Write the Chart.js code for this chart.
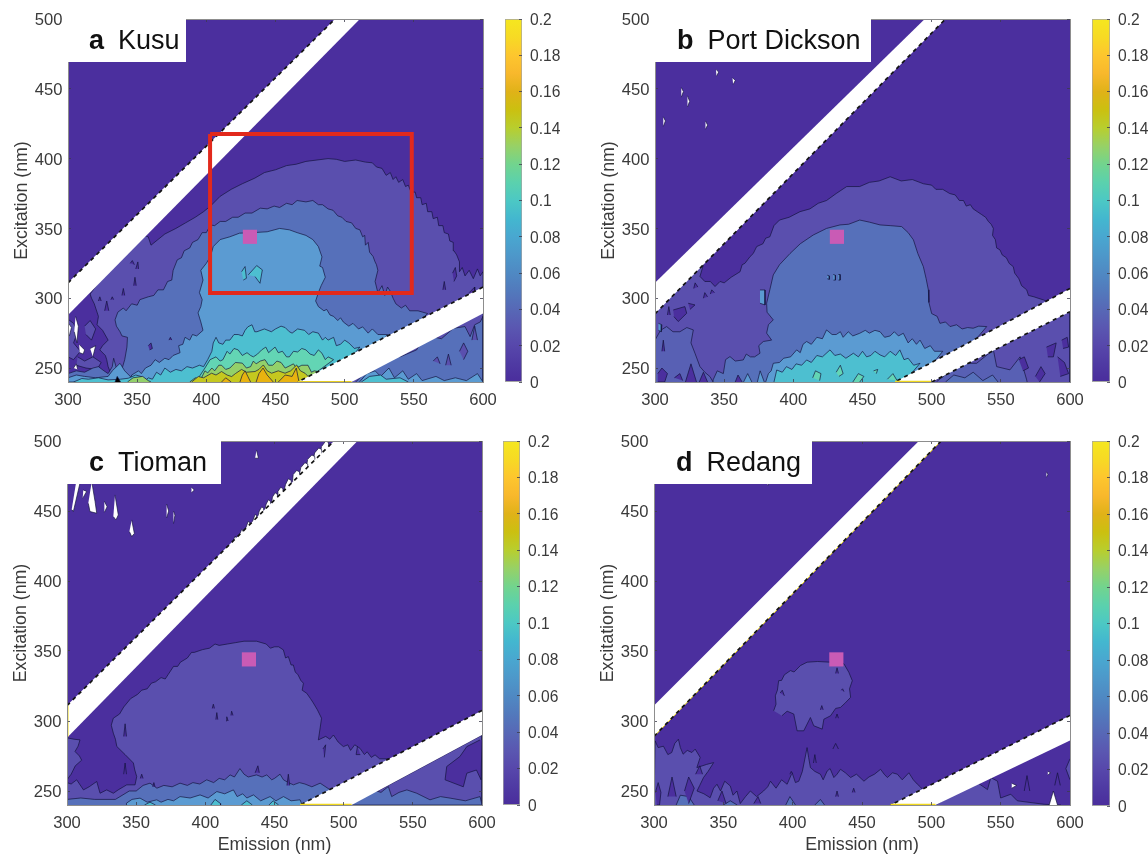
<!DOCTYPE html>
<html>
<head>
<meta charset="utf-8">
<title>Excitation emission maps</title>
<style>
  html, body { margin: 0; background: #fff; }
  body { position: relative; width: 1148px; height: 856px; overflow: hidden; font-family: "Liberation Sans", sans-serif; }
  canvas { position: absolute; filter: blur(0.4px); }
  .tag { position: absolute; background: #fff; color: #111; font-size: 27px; line-height: 43px; height: 43px; white-space: nowrap; z-index: 5; box-sizing: border-box; filter: blur(0.3px); }
  .tag b { margin-right: 14px; }
</style>
<script src="https://cdn.jsdelivr.net/npm/chart.js@4"></script>
</head>
<body>
<canvas id="plotA"></canvas><canvas id="barA"></canvas>
<canvas id="plotB"></canvas><canvas id="barB"></canvas>
<canvas id="plotC"></canvas><canvas id="barC"></canvas>
<canvas id="plotD"></canvas><canvas id="barD"></canvas>
<div class="tag" style="left:68px;top:19px;width:118px;padding-left:21px"><b>a</b>Kusu</div>
<div class="tag" style="left:655px;top:19px;width:216px;padding-left:22px"><b>b</b>Port Dickson</div>
<div class="tag" style="left:67px;top:441px;width:154px;padding-left:22px"><b>c</b>Tioman</div>
<div class="tag" style="left:654px;top:441px;width:158px;padding-left:22px"><b>d</b>Redang</div>
<script>
// axis ticks
const emissionTicks = [300, 350, 400, 450, 500, 550, 600];
const excitationTicks = [250, 300, 350, 400, 450, 500];
const colorbarTicks = [0, 0.02, 0.04, 0.06, 0.08, 0.1, 0.12, 0.14, 0.16, 0.18, 0.2];
const colorbarLabels = ['0', '0.02', '0.04', '0.06', '0.08', '0.1', '0.12', '0.14', '0.16', '0.18', '0.2'];
const colorbarStops = [0, 0.01, 0.02, 0.03, 0.04, 0.05, 0.06, 0.07, 0.08, 0.09, 0.1, 0.11, 0.12, 0.13, 0.14, 0.15, 0.16, 0.17, 0.18, 0.19, 0.2];
const colorbarColors = ['#4a2d9c', '#4f3aa3', '#5747ab', '#5a57b1', '#5768b6', '#5279bc', '#4f89c3', '#4d98ca', '#49a7d0', '#43b7cf', '#4cc8c4', '#5bd1ad', '#72d48e', '#97d166', '#b8ce2e', '#cbc010', '#e0b218', '#f8b82c', '#fdc62e', '#f7da24', '#f5e71f'];

// peak marker and the highlighted box
const markerPoint = [[431.5, 344]];
const kusuBox = [[402.7, 417.7], [548.5, 417.7], [548.5, 303.8], [402.7, 303.8], [402.7, 417.7]];
const wholePlot = [[300, 240], [600, 240], [600, 500], [300, 500]];

// Kusu contours, emission / excitation
const kusuLevel02 = [[600, 240], [600, 300], [600, 319], [598, 316], [596, 321], [593, 314], [590, 320], [587, 316], [585, 322], [583, 319], [583, 326], [581, 331], [579, 334], [578.5, 340], [576, 341], [575, 346], [572, 347], [571, 352], [568, 352], [567, 358], [564, 357], [563, 362], [560, 362], [559, 368], [556, 367], [555, 372], [552, 372], [551, 376], [548, 376], [546, 381], [544, 380], [542, 385], [539, 383], [537, 387], [535, 385], [533, 390], [530, 388], [527, 393], [523, 394], [520, 397], [515, 397.5], [508, 399], [500, 398], [494, 399.5], [488, 400], [480, 399], [472, 398], [465, 396], [458, 395], [450, 392], [442, 390], [435, 386], [426, 382], [418, 378], [410, 373], [403, 366], [398, 362], [392, 358], [385, 354], [378, 350], [370, 346], [365, 342], [360, 338], [358, 344], [355, 345], [330, 322], [316, 303], [317, 300], [319, 296], [322, 287], [321, 281], [325, 277], [329, 270], [325, 266], [323, 263], [327, 259], [328, 256], [329, 251], [331, 246], [334, 240]];
const kusuLevel04 = [[340, 240], [338, 246], [341, 256], [342.6, 265], [343, 272], [339, 273], [337.6, 276], [335, 280], [334, 284.5], [336, 290], [340, 293], [342, 291], [346, 296], [350, 295], [352, 299], [358, 301], [362, 302], [365, 306], [369, 306], [372, 312], [375, 313], [376, 320], [379, 327.5], [382, 329], [384, 334], [388, 336], [390, 340], [394, 342], [397, 347], [400, 347], [403, 352.5], [406, 352], [410, 355], [414, 355], [419, 358], [423, 358], [428, 361], [433, 361], [439, 364.5], [444, 364], [449, 366], [453, 365], [458, 368], [462, 367], [465.6, 370], [472, 369], [477, 370], [481, 367], [484, 367], [488, 364], [491.6, 363], [495, 359], [498, 358], [501, 355], [505, 354], [508, 350], [511, 349], [513, 344], [514.5, 345], [515, 338], [517, 340], [518, 333], [520.5, 330], [522, 326], [523, 324], [524, 320], [522, 312], [524, 304], [527, 309], [529, 302], [531, 308], [533, 305], [535, 300], [537, 296], [541, 293], [544, 295], [547, 291], [553, 291], [560, 289], [510, 245], [505, 240]];
const kusuLevel06 = [[345, 240], [346, 245], [351, 248], [353, 246], [356, 250], [360, 252], [363, 256], [366, 254], [370, 257], [373, 256], [376, 259], [381, 261], [380, 266], [383, 267], [384.6, 272], [388, 270], [390, 274], [393, 273], [397.6, 277], [396, 283], [394, 289.5], [396, 294], [397, 299], [395, 304], [397.6, 313], [396, 320], [400, 325], [403, 330], [405, 337], [410, 342], [417, 344], [424, 346.6], [434, 347], [444, 347.6], [453, 350], [460, 349], [465.6, 347], [472, 345], [477, 342], [481, 337], [483.6, 329.6], [482, 323], [484, 322], [486, 315], [483, 309], [481, 304], [479, 298], [481, 294], [485, 291], [487, 292], [489.4, 288], [492, 287], [495, 284], [497, 286], [499, 283], [503, 280], [506, 282], [510, 278], [513, 279.5], [517, 275], [520, 278], [524, 274], [531, 274], [505, 240]];
const kusuLevel08 = [[355, 240], [358, 243], [361, 242], [364, 247], [367, 245], [370, 250], [374, 247], [378, 249], [382, 248], [386, 251], [390, 250], [395, 252], [398, 251], [401, 256], [404, 262], [405, 268], [407, 272], [409, 268], [412, 267], [414, 270], [417, 270], [420, 274], [423, 274], [426, 273], [428, 277], [430, 279.5], [433, 281], [435, 276], [436.6, 276], [442, 278], [447, 276], [450, 278], [454, 280], [457, 279], [460, 276], [462, 275], [466, 278], [471, 277], [474, 274], [477, 276], [481, 275], [484, 270], [486, 272], [488, 270], [492, 272], [494, 266], [497, 267], [500, 270], [503, 268], [507, 264], [511, 265], [490, 240]];
const kusuLevel10 = [[392, 240], [395, 244], [399, 250], [402.7, 256], [407, 258], [410, 255], [412, 256], [415, 262], [417, 260], [420, 264], [423, 263], [426, 259], [429.4, 261], [432, 259], [434, 258], [437, 260], [440, 263], [443, 265], [445, 261], [449.7, 265], [452, 261], [455, 262], [458, 258], [460, 258], [463, 262], [466, 261.5], [469, 264], [472, 263], [475, 260], [478, 259], [481, 263], [483.6, 260.6], [486, 256], [488, 258], [492, 256], [470, 240]];
const kusuLevel12 = [[388, 240], [392, 243], [396, 242], [399, 248], [401, 246.5], [404, 250], [406, 248], [409, 252], [411, 252], [414, 249], [417, 250], [421, 254], [426, 253.5], [429, 250], [432, 251], [434, 255], [436, 253], [439, 255], [442.4, 256], [445, 252], [448, 252], [451, 255], [454, 254], [457, 250], [459, 251], [463, 253], [465, 250], [469, 252], [473.5, 252], [476, 247], [478, 248], [483, 247], [468, 240]];
const kusuLevel14 = [[389.4, 240], [394.2, 243.9], [398, 243], [403.8, 246.3], [407, 245], [411, 247.5], [415, 245], [418.3, 243.9], [421, 246], [425.5, 249], [429, 247], [435.2, 247.5], [438, 249], [441.2, 252.2], [444, 248], [447.2, 246.3], [452, 248], [456.9, 246.3], [461, 248], [465.3, 252.2], [468, 248], [471.3, 246.3], [476.1, 241.5], [470, 240]];
const kusuLevel16 = [
  [[411, 240], [414, 243], [418, 240]],
  [[424.3, 240], [426, 245], [428, 248], [430, 244], [432, 240]],
  [[436, 240], [438, 246], [441, 250], [444, 245], [448.4, 240]],
  [[452, 240], [457, 245], [462, 244], [465, 250], [467, 240]]
];
const kusuLeft04 = [[300, 246], [306, 248], [312, 247], [318, 250], [322, 251], [326, 248], [329, 246], [332, 251], [333, 257], [335, 250], [338, 245], [340, 240], [300, 240]];
const kusuLeft06 = [[300, 243], [306, 245], [312, 244], [320, 243], [329, 244], [332, 248], [337.6, 253.4], [341, 248], [345, 244], [347, 240], [300, 240]];
const kusuLeft08 = [[304, 240], [310, 242.5], [314.7, 242], [322, 243], [329, 241.5], [338, 242], [343.6, 242.7], [349, 245], [353, 243.9], [358, 241], [358, 240]];
const kusuLeft12 = [[343, 240], [347, 243], [354, 244], [358, 241], [360, 240]];
const kusuBlackMark = [[334, 240], [335.6, 244], [338, 240]];
const kusuLeftIsles = [
  [[300, 285], [304, 282], [307, 276], [304, 268], [309, 262], [304, 256], [300, 258]],
  [[312, 280], [316, 284], [320, 278], [317, 270], [313, 274]],
  [[307, 258], [312, 255], [318, 258], [324, 254], [321, 249], [313, 250], [306, 252]]
];
const kusuInner08 = [
  [[425.5, 319], [428, 322.7], [429, 314.3], [426.7, 313]],
  [[430.3, 316.7], [436.4, 323.4], [440.5, 320.3], [438.8, 310.7], [435.2, 315.5]]
];
const kusuDarkSpots = [
  [[349, 321], [350.5, 326], [351, 321]], [[345, 325], [346.5, 327], [348, 324]], [[347.5, 309], [348.4, 315], [349.3, 309]],
  [[339, 302], [340, 307], [341, 302]], [[326.5, 291], [328, 298], [329.5, 291]], [[322, 298], [323, 301], [324, 298]],
  [[331, 299], [332, 301], [333, 299]], [[373, 270], [374, 272], [375, 270]], [[358, 266], [360, 268], [361, 264], [359, 263]],
  [[578, 318], [580, 322], [581, 316], [579, 312]], [[571, 306], [572, 312], [573, 306]], [[590, 304], [594, 308], [594, 302]]
];
const kusuHoles = [
  [[305.5, 287], [307.5, 280], [306.5, 268], [304.5, 276]],
  [[300.5, 282], [302.5, 279], [301, 273]],
  [[308, 267], [312, 263], [311, 260], [308.5, 261]],
  [[316, 264], [320, 266], [318, 258]],
  [[304, 250], [306, 253], [307, 249]]
];
const kusuTriangle04 = [[508, 240], [520, 252], [532.8, 260.6], [540, 258], [552, 263], [556, 270], [563, 272.5], [570, 271], [578.6, 278.5], [587, 279.7], [590.7, 272.5], [594, 281], [598, 283], [600, 287], [600, 240]];
const kusuTriangle06 = [[510.7, 240], [516, 246], [522, 248], [526, 244], [532, 250], [536, 243], [542, 248], [546, 242], [552, 246], [556, 241], [566, 244], [572, 241], [580, 243], [588, 241], [596, 246], [600, 240]];
const kusuTriangle08 = [[512, 240], [518, 244], [526, 245], [530, 242], [540, 243], [546, 240]];
const kusuTriangleDark = [
  [[583, 262], [586, 268], [589, 262], [586, 256]], [[573, 252], [575, 260], [577, 252]], [[592, 270], [594, 280], [596, 270]], [[564, 255], [567, 258], [569, 253]]
];
const kusuUpperStripe = [[300, 311], [493, 500], [511, 500], [300, 288]];
const kusuLowerStripe = [[466, 240], [505, 240], [600, 289], [600, 308]];

// Port Dickson contours
const portLevel02 = [[300, 240], [300, 295], [335, 328], [335, 324], [332.5, 315.6], [336, 312], [340, 312], [343.4, 308.4], [347, 312], [350, 311], [355, 315], [361.5, 319], [363, 324], [365, 325], [368.7, 329.8], [371, 332], [373.5, 337], [378, 339], [380, 343], [383, 344], [386, 352], [390, 356], [397, 358], [404.8, 362], [412, 364], [418, 368], [424, 370], [431, 375], [438.6, 380], [448, 380], [455, 383], [462, 384], [470, 387], [478, 384], [486, 385], [494, 382], [500, 381], [503, 378], [508, 378], [513, 375], [517, 374], [520, 370], [523, 370], [525, 366], [528, 367], [530, 364], [533, 362], [536, 360], [539, 358], [541, 355], [543, 353], [544.6, 350], [544, 345], [546, 342], [547, 336], [549.4, 334.6], [551, 331], [554, 329], [556, 325], [559, 322.6], [560, 318], [563, 314], [565, 309], [568.7, 306], [570, 302], [574, 301], [577, 300], [580.8, 298.8], [585, 297], [600, 297], [600, 240]];
const portLevel04 = [[342, 240], [342, 241.5], [345, 248], [349.4, 246], [351, 256], [354.2, 258.2], [358, 255], [363.8, 255.8], [366, 260], [369, 258], [372, 258], [375.9, 260.6], [375, 266], [378.3, 269], [384.3, 270], [380.7, 275], [382, 281], [385.5, 284.5], [381, 290], [380.7, 296.4], [383, 306], [385.5, 316.7], [390, 324], [397.6, 332], [405, 339], [414.4, 345.3], [424, 350], [433.7, 352.5], [440, 353], [448, 356], [455, 354.5], [462.7, 352.5], [470, 352], [478.3, 351.3], [483, 347], [486.8, 341.8], [490, 332], [494, 322.6], [496, 314], [497.6, 306], [498, 297], [500, 289], [504, 287], [506, 282], [510, 283], [513.3, 279.7], [518, 281], [522, 278], [526, 279], [530, 278.5], [534, 280], [539.8, 279.7], [510, 245], [500, 240]];
const portLeft03 = [[300, 240], [300, 270], [304, 277], [308.4, 279.7], [313, 276], [318, 276], [323, 279], [327.7, 277.3], [326, 268], [328.9, 260.6], [332.5, 251], [336, 247], [339.7, 243.9], [342, 240]];
const portLevel06 = [[380, 240], [382, 246], [384, 248], [385.5, 253.4], [390, 254], [393, 257], [398, 258], [402.4, 263], [405, 261], [407, 267], [409.6, 269], [413, 267], [417, 272], [421, 271], [424, 277.3], [428, 274], [431, 274], [434, 276], [436, 272], [439.7, 276], [443, 273], [448, 274.9], [452, 277], [455, 275], [459, 277], [462.7, 276], [466, 272], [470, 273], [473, 276], [476, 273], [479.5, 274.9], [483, 268], [486, 271], [489, 267], [491.6, 270], [495, 264], [499, 266], [502, 262], [508, 262], [490, 240]];
const portLevel08 = [[386, 240], [388, 248.6], [392, 247], [395, 251], [399, 249], [402, 253], [406, 252], [409.6, 255.8], [413, 254], [417, 259], [421, 258], [426.5, 263], [430, 259], [434, 260], [438, 257], [443.4, 260.6], [447, 258], [450, 262], [453, 258], [456, 259], [459, 262], [462.7, 259.4], [466, 258], [470, 262], [474, 259], [477, 263], [480, 256], [483, 257], [487, 252], [491.6, 253.4], [480, 240]];
const portLevel10 = [
  [[414, 243], [416, 248], [420, 246], [419, 241]],
  [[431, 247], [434, 252], [436, 246], [433, 244]],
  [[443, 240], [447, 246], [451, 244], [448, 240]],
  [[458, 248], [461, 249], [460, 246]],
  [[468, 242], [472, 246], [475, 241]]
];
const portDarkIsles = [
  [[313.2, 291.6], [321.6, 294], [322.9, 289.2], [316.8, 283.3], [313.7, 286.8]],
  [[324, 296.4], [328.9, 295.2], [325.3, 292]],
  [[328, 307], [329, 311], [331, 308]], [[335, 300], [336, 304], [338, 301]], [[340, 303], [341, 306], [343, 304]],
  [[309, 288], [310, 294], [311, 288]], [[302, 246], [305, 250], [309, 246], [307, 240], [302, 240]],
  [[322, 240], [326, 253], [330, 240]], [[314, 243], [318, 246], [320, 241]], [[305, 262], [306, 270], [307, 262]],
  [[332, 240], [335, 247], [338, 240]], [[358, 240], [360, 245], [363, 240]],
  [[563, 256], [567, 258], [570, 250], [566, 248]], [[591, 258], [596, 254], [599, 246], [593, 244]],
  [[583, 265], [590, 268], [588, 258], [584, 258]], [[594, 270], [598, 272], [599, 265], [595, 264]],
  [[575, 244], [579, 251], [582, 246], [578, 240]]
];
const portBlueIsles = [
  [[375.9, 305.9], [379.5, 305.9], [379.5, 295.2], [375.9, 296.4]],
  [[302.5, 282], [305, 281], [304.5, 276], [302.5, 277]],
  [[424.5, 316.5], [426, 316], [426, 313.5], [424.5, 314]], [[428.8, 317], [430.4, 316.5], [430.4, 313], [429, 313]],
  [[432.5, 317], [433.8, 317], [433.8, 313], [432.6, 313]],
  [[364, 240], [367, 246], [370, 240]], [[374, 240], [376, 248], [379, 240]]
];
const portTriangle03 = [[503.6, 240.3], [511, 246], [520.5, 253.4], [532.5, 253.4], [544.6, 263], [547, 251], [556.6, 248.7], [563.9, 258], [568.7, 241.5], [569, 240]];
const portTriangle06 = [[510, 240], [516, 245], [524, 243], [530, 247], [537, 241], [544, 245], [548, 240]];
const portSpecks = [
  [[344, 464], [346, 462], [344.5, 459]], [[356, 458], [358, 456], [356.5, 453]], [[319, 451], [320.5, 448], [319, 444]],
  [[323.5, 445], [325, 441], [323.5, 437]], [[306, 430], [307.5, 427], [306, 423]], [[336.5, 427], [338, 424], [336.5, 421]]
];
const portUpperStripe = [[300, 311], [495, 500], [510, 500], [300, 288.8]];
const portLowerStripe = [[473.5, 240], [500, 240], [600, 290.4], [600, 307]];

// Tioman contours
const tiomanLevel02 = [[300, 240], [300, 256], [303, 255], [307, 258], [311.9, 250.8], [316, 253], [321.5, 256.8], [323.9, 248.4], [328.7, 250.8], [333.5, 248.4], [337, 250.8], [343.2, 254.4], [349.2, 254.4], [350.4, 260.3], [349, 265], [348, 270], [342, 276], [336, 281.8], [335, 287], [333.5, 291.3], [332, 297], [333.5, 302], [338, 305], [341, 310], [346, 316], [351, 319], [354, 322], [358, 323], [361, 327], [364, 328], [368, 331], [371, 330], [373, 333], [377, 339], [380, 339], [382, 342], [387, 345], [390, 349], [392, 349], [398, 351], [403, 352], [407, 355], [410, 354], [416, 355], [422, 356], [428, 357], [437, 357], [444, 355], [447, 352], [450, 353], [453, 353], [456.4, 350.8], [458, 345], [460, 346], [462, 340], [463.6, 340], [465, 335], [467, 333], [469, 329], [470.9, 327], [470, 322], [473.3, 319.8], [476, 316], [478, 313], [481, 308], [484, 302], [483, 295], [481.7, 286.5], [487, 289], [490, 287], [492.6, 290], [496, 285], [499.8, 281.7], [503, 283], [505, 279], [508, 283], [511.8, 280.5], [515, 276], [517, 278], [520, 274], [522.7, 275.8], [526, 273], [532, 273], [505, 240]];
const tiomanLevel04 = [[300, 240], [300, 244], [310, 245], [320, 244], [335, 244], [345, 250], [350, 250], [355, 254], [360, 255.6], [365, 252], [370, 254], [376, 253], [381.7, 255.6], [387, 254], [391, 256], [396, 255], [401, 258], [406, 256], [410, 259], [414, 258], [417.9, 261.5], [421, 260], [425, 266], [428, 262], [431, 260], [437, 261.5], [441, 260], [444.4, 261.5], [448, 258], [450, 259], [454, 262], [456.5, 258], [460, 256], [463.7, 254.4], [468, 256], [472, 255], [477, 253], [483, 255.6], [490, 251], [490, 240]];
const tiomanLevel06 = [[343, 240], [343, 241.3], [347, 244], [352.8, 244.9], [358, 242], [364.9, 243.7], [368, 242], [373, 244], [377, 243], [381.7, 246], [389, 245], [396.2, 247.2], [402, 245], [408.3, 249.6], [414, 248], [420.3, 250.8], [423, 246], [427, 248], [430, 245], [434.8, 247.2], [440, 243], [446.8, 246], [451, 243], [456.5, 246], [462, 243], [468.5, 243.7], [470, 240]];
const tiomanLevel08 = [
  [[404, 240], [407, 244], [411, 241], [411, 240]], [[426, 240], [430, 243], [434, 240]], [[446, 240], [449, 243], [453, 240]], [[356, 240], [360, 242], [364, 240]]
];
const tiomanLeftIsle = [[300, 288], [305, 287], [309.4, 286.5], [308, 282], [305.8, 278.2], [309, 275], [310.6, 272], [306, 268], [303, 262], [300, 258]];
const tiomanDarkSpots = [
  [[405, 309], [405.8, 312], [406.6, 309]], [[407.6, 301], [408.3, 306], [409, 301]], [[415, 300], [415.5, 303], [416.5, 300]],
  [[418.5, 304], [419, 307], [420, 304]], [[341, 289], [342, 298], [343, 289]], [[341, 262], [342, 270], [343, 262]],
  [[353, 259], [354, 262], [355, 259]], [[362, 253], [362.8, 256], [363.6, 253]], [[436, 263], [438, 268], [439, 263]],
  [[459, 254], [460, 262], [461, 254]], [[485, 280], [487, 283], [486, 274]], [[510, 282], [509, 276], [512, 276]]
];
const tiomanTriangle02 = [[505.8, 240], [600, 290], [600, 240]];
const tiomanTriangleDark = [[598.6, 286.5], [589, 281.7], [584, 274.6], [574.5, 267.5], [573.3, 258], [586.5, 253], [589, 262.7], [596, 265], [599.3, 258], [600, 286]];
const tiomanTriangle04 = [[507, 241.3], [514, 247], [521.5, 250.8], [527, 249], [532.3, 253.2], [534.7, 246], [540, 249], [545.7, 250.8], [552.8, 248.4], [562.4, 243.7], [570, 246], [577, 244.9], [588, 243], [598.6, 246], [600, 240], [507, 240]];
const tiomanHoles = [
  [[306.5, 470], [309.4, 470], [304.6, 449.6], [303.4, 451]],
  [[317.9, 471], [320.3, 456.7], [321.5, 448.4], [316.6, 449.6], [315.4, 455.5]],
  [[334.7, 461.5], [337.1, 447.2], [335.4, 443.6], [333.5, 446]],
  [[346.8, 443.6], [348.7, 434], [346.8, 431.7], [345.1, 435.3]],
  [[311.8, 465], [314.2, 464], [311.3, 459]],
  [[437, 493.6], [438.4, 487.7], [436, 487.7]],
  [[372, 455], [373.5, 450], [372, 445]], [[377, 450], [378, 447], [377, 441]], [[327, 457], [329, 453], [327, 449]],
  [[390, 467], [392, 465], [390, 463]]
];
const tiomanTeeth = [
  [[483, 491], [484, 496], [487, 500], [489, 499], [489.6, 491]],
  [[478, 486], [479, 491.5], [482, 495], [484, 494], [485, 486]],
  [[473, 481], [474, 487], [477, 490], [479, 489], [480, 481]],
  [[468, 476], [469, 481], [472, 484.5], [474, 483.5], [474.5, 476]],
  [[463, 471], [463.5, 476], [466, 479], [468, 478], [469, 471]],
  [[457, 465], [458, 469], [460, 473], [462, 472], [463, 465]],
  [[452, 460], [452.5, 464], [454.5, 467], [456, 466], [457, 460]],
  [[448, 456], [448.5, 460], [450.5, 463], [452, 462], [453, 456]],
  [[443, 451], [444, 455], [445.6, 458], [447, 457], [448, 451]],
  [[438, 446], [439, 450], [440.8, 453], [442, 452], [443, 446]],
  [[434, 442], [435, 445], [436, 447.5], [437, 447], [438, 442]],
  [[429, 437], [430, 440], [431, 442.5], [432, 442], [433, 437]],
  [[424.5, 432], [425.5, 435], [426.3, 437], [427, 436.5], [428, 432]],
  [[420, 428], [420.8, 430.5], [421.5, 432], [422, 431.5], [423, 428]]
];
const tiomanUpperStripe = [[300, 311], [493, 500], [510, 500], [300, 288]];
const tiomanLowerStripe = [[468.5, 240], [505.8, 240], [600, 290], [600, 307.5]];
const tiomanYellowLeft = [[300, 289], [300, 311]];

// Redang contours
const redangIsland = [[386.3, 307.3], [388, 312], [387.5, 318], [389, 322], [389.9, 328.8], [392, 329], [394, 333], [398.4, 336], [401, 335], [405.6, 339.6], [410.4, 342], [418, 342.5], [427.3, 342], [437, 340.8], [440.5, 334.8], [443, 328.8], [441, 323], [441.8, 316.9], [438, 313], [434.5, 309.7], [431, 309], [427.3, 303.7], [422.5, 301.3], [421.3, 294.2], [415.2, 296.6], [412.8, 302.5], [408, 293], [403.2, 293], [400.8, 305], [396, 307], [392.3, 303.8]];
const redangFringe = [[300, 240], [300.8, 285.8], [303, 281], [306.8, 282], [310, 276], [312.8, 277.5], [315, 284], [317.6, 287], [319, 281], [321, 276.3], [324, 279], [327.3, 277.5], [329.7, 279.9], [333.3, 274], [330.9, 266.7], [338, 269], [343, 270.3], [339, 264], [335.7, 259.6], [333, 254], [331, 250], [336, 248], [340.5, 245.2], [343, 252], [345.4, 254.8], [348, 250], [351, 257], [355, 253.6], [357, 247], [359.8, 250], [362.2, 241], [366, 246], [369.5, 250], [374, 246], [379, 250], [382, 253], [384, 257], [388, 252], [392, 258], [396, 254.8], [399.6, 263], [402, 256], [404.4, 257], [407, 264], [410.4, 281], [411.5, 274], [412.8, 266.7], [416, 264], [420, 262], [422, 258], [424.9, 264.3], [427, 266], [429.7, 259.6], [432, 262], [434.5, 265.5], [438, 263], [441.8, 259.6], [446, 262], [451.4, 257], [455, 260], [459, 262], [463.4, 265.5], [466, 262], [468.3, 259.6], [472, 263], [475.5, 262], [479, 258], [483.8, 263], [487, 258], [489.9, 254.9], [492, 253], [503, 240]];
const redangBottom04 = [
  [[316, 240], [319, 247], [325, 246], [329, 240]], [[350, 240], [355, 243], [360, 240]], [[395, 240], [398, 246], [402, 240]],
  [[416, 240], [420, 244], [423, 240]]
];
const redangDarkSpots = [
  [[301, 249], [303, 256], [305, 249], [304, 240], [302, 240]], [[310, 246], [313, 260], [316, 246]], [[330, 262], [333, 268], [335, 262]],
  [[322, 250], [325, 260], [329, 252], [325, 241]], [[346, 243], [349, 250], [352, 241]], [[372, 241], [375, 246], [377, 241]],
  [[391, 320], [392.5, 322], [394, 318]], [[431, 334], [432, 338], [433, 334]], [[435, 322], [436, 323], [437, 321]],
  [[420, 308], [421, 311], [422, 308]], [[431, 302], [432, 305], [433, 302]], [[415, 270], [416, 276], [417, 270]],
  [[429, 280], [431, 284], [433, 280]], [[398, 262], [399, 264], [400, 262]], [[431, 246], [432, 250], [433, 246]],
  [[443, 249], [444, 252], [445, 249]], [[567, 250], [569, 261], [571, 250]], [[589, 254], [591, 263], [593, 254]]
];
const redangTriangle02 = [[503, 240], [511.5, 245], [523.6, 252.5], [533.2, 256], [540.5, 251], [542.9, 259.6], [547.7, 257], [550, 245], [557.3, 247.7], [562, 243], [581.4, 240.5], [593.5, 240]];
const redangRightEdge = [[600, 273], [597, 266], [600, 258]];
const redangHoles = [
  [[558, 255.5], [561.5, 254], [558, 252]], [[584, 264], [586, 263], [584, 261.5]], [[585, 240], [588, 250], [591, 240]],
  [[376, 482], [377, 480], [376, 478]], [[382, 472], [383, 470], [382, 468]], [[583, 478], [584, 476], [583, 474]]
];
const redangUpperStripe = [[300, 311], [491, 500], [507, 500], [300, 289]];
const redangLowerStripe = [[470.6, 240], [503, 240], [600, 286], [600, 304]];

// colours of the filled contour bands
const bandDark = '#4b2f9e';
const band02 = '#5a4fae';
const band03 = '#5860b4';
const band04 = '#5670ba';
const band06 = '#5b9bd2';
const band08 = '#4dbfd0';
const band10 = '#63d5b4';
const band12 = '#93d06a';
const band14 = '#c5c81f';
const band16 = '#e8b30f';
const contourLine = 'rgba(18,18,60,0.85)';

const textColor = '#3a3a3a';
const fontFamily = '"Liberation Sans", Arial, sans-serif';

function shape(points, color, lineColor) {
    return {
        data: points.map(p => ({ x: p[0], y: p[1] })),
        showLine: true,
        fill: 'shape',
        backgroundColor: color,
        borderColor: lineColor === undefined ? contourLine : lineColor,
        borderWidth: lineColor === null ? 0 : 0.8,
        pointRadius: 0,
        tension: 0,
        clip: 0
    };
}

function shapes(list, color) {
    return list.map(points => shape(points, color));
}

function stroke(points, color, width, dash) {
    return {
        data: points.map(p => ({ x: p[0], y: p[1] })),
        showLine: true,
        fill: false,
        borderColor: color,
        borderWidth: width,
        borderDash: dash || [],
        borderJoinStyle: 'miter',
        pointRadius: 0,
        tension: 0,
        clip: 0
    };
}

function marker() {
    return {
        data: markerPoint.map(p => ({ x: p[0], y: p[1] })),
        pointStyle: 'rect',
        pointRadius: 10,
        backgroundColor: '#c95bb5',
        borderWidth: 0,
        clip: 0
    };
}

function stripes(upper, lower) {
    return [shape(upper, '#ffffff', null), shape(lower, '#ffffff', null)];
}

// black dashed rim on a stripe edge, yellow underneath when the panel has it
function rim(a, b, yellow) {
    const out = [];
    if (yellow) out.push(stroke([a, b], '#f4e01c', 1));
    out.push(stroke([a, b], '#141414', 1.7, [4, 4]));
    return out;
}

// fix an axis to an exact size so the plot area lands where it should
function fixSize(size) {
    return function (scale) {
        if (scale.isHorizontal()) scale.height = size; else scale.width = size;
        scale.paddingLeft = scale.paddingRight = scale.paddingTop = scale.paddingBottom = 0;
    };
}

function setTicks(values) {
    return function (scale) {
        scale.ticks = values.map(v => ({ value: v }));
    };
}

function axis(position, min, max, values, size, title, showLabels) {
    return {
        type: 'linear',
        position: position,
        min: min,
        max: max,
        afterBuildTicks: setTicks(values),
        afterFit: fixSize(size),
        border: { display: true, color: '#8d8d8d', width: 1, z: 1 },
        grid: { drawOnChartArea: false, drawTicks: true, tickLength: -3, color: '#3c3c4c', lineWidth: 0.8, z: 1 },
        ticks: {
            display: showLabels,
            color: textColor,
            padding: position === 'bottom' ? 11 : 8.5,
            labelOffset: position === 'left' ? 1.5 : 0,
            maxRotation: 0,
            autoSkip: false,
            font: { family: fontFamily, size: 16.6 }
        },
        title: title ? {
            display: true,
            text: title,
            color: textColor,
            padding: { top: position === 'bottom' ? 2 : 11.5, bottom: 0 },
            font: { family: fontFamily, size: 17.8 }
        } : { display: false }
    };
}

function drawPlot(id, frame, layers, xTitle) {
    const canvas = document.getElementById(id);
    const bottomRoom = xTitle ? 51 : 38;
    canvas.width = frame.right - frame.left + 85;
    canvas.height = frame.bottom - frame.top + 19 + bottomRoom;
    canvas.style.left = (frame.left - 68) + 'px';
    canvas.style.top = (frame.top - 19) + 'px';
    new Chart(canvas, {
        type: 'scatter',
        // first dataset ends up on top in chart.js, so flip the bottom-up list
        data: { datasets: layers.slice().reverse() },
        options: {
            responsive: false,
            animation: false,
            events: [],
            layout: { padding: { top: 19, right: 17, left: 0, bottom: 0 } },
            plugins: { legend: { display: false }, tooltip: { enabled: false } },
            scales: {
                x: axis('bottom', 300, 600, emissionTicks, bottomRoom, xTitle, true),
                y: axis('left', 240, 500, excitationTicks, 68, 'Excitation (nm)', true),
                xTop: axis('top', 300, 600, emissionTicks, 0, null, false),
                yRight: axis('right', 240, 500, excitationTicks, 0, null, false)
            }
        }
    });
}

function drawColorbar(id, frame) {
    const canvas = document.getElementById(id);
    const barWidth = frame.right - frame.left;
    const barHeight = frame.bottom - frame.top;
    canvas.width = 80;
    canvas.height = barHeight + 19 + 24;
    canvas.style.left = (frame.left - 5) + 'px';
    canvas.style.top = (frame.top - 19) + 'px';
    const gradient = canvas.getContext('2d').createLinearGradient(0, 19 + barHeight, 0, 19);
    colorbarStops.forEach((v, i) => gradient.addColorStop(v / 0.2, colorbarColors[i]));
    new Chart(canvas, {
        type: 'bar',
        data: {
            labels: ['range'],
            datasets: [{
                data: [[colorbarStops[0], colorbarStops[colorbarStops.length - 1]]],
                barPercentage: 1,
                categoryPercentage: 1,
                borderWidth: 1,
                borderColor: '#a5a5a5',
                borderSkipped: false,
                backgroundColor: gradient
            }]
        },
        options: {
            responsive: false,
            animation: false,
            events: [],
            layout: { padding: { top: 19, left: 5, right: 0, bottom: 24 } },
            plugins: { legend: { display: false }, tooltip: { enabled: false } },
            scales: {
                x: { display: false },
                y: {
                    position: 'right',
                    min: 0,
                    max: 0.2,
                    afterBuildTicks: setTicks(colorbarTicks),
                    afterFit: fixSize(80 - 5 - barWidth),
                    border: { display: false },
                    grid: { drawOnChartArea: false, tickLength: -3, color: '#3c3c4c', lineWidth: 0.8, z: 1 },
                    ticks: {
                        color: textColor,
                        padding: 11,
                        labelOffset: 1.5,
                        font: { family: fontFamily, size: 15.6 },
                        callback: (v, i) => colorbarLabels[i]
                    }
                }
            }
        }
    });
}

const kusuLayers = [
    shape(wholePlot, bandDark, null),
    shape(kusuLevel02, band02),
    ...shapes(kusuLeftIsles, band02),
    shape(kusuLeft04, band04),
    shape(kusuTriangle04, band04),
    shape(kusuLevel04, band04),
    shape(kusuLeft06, band06),
    shape(kusuTriangle06, band06),
    shape(kusuLevel06, band06),
    ...shapes(kusuInner08, band08),
    shape(kusuLeft08, band08),
    shape(kusuTriangle08, band08),
    shape(kusuLevel08, band08),
    shape(kusuLevel10, band10),
    shape(kusuLeft12, band12),
    shape(kusuLevel12, band12),
    shape(kusuLevel14, band14),
    ...shapes(kusuLevel16, band16),
    ...shapes(kusuDarkSpots, bandDark),
    ...shapes(kusuTriangleDark, band02),
    ...shapes(kusuHoles, '#ffffff'),
    shape(kusuBlackMark, '#000000'),
    ...stripes(kusuUpperStripe, kusuLowerStripe),
    ...rim(kusuUpperStripe[0], kusuUpperStripe[1], false),
    ...rim(kusuLowerStripe[3], kusuLowerStripe[0], false),
    stroke([kusuLowerStripe[0], kusuLowerStripe[1]], '#e8cf20', 2),
    stroke(kusuBox, '#e2291c', 4),
    marker()
];

const portLayers = [
    shape(wholePlot, bandDark, null),
    shape(portLevel02, band02),
    shape(portLeft03, band03),
    shape(portTriangle03, band03),
    shape(portTriangle06, band04),
    shape(portLevel04, band04),
    shape(portLevel06, band06),
    shape(portLevel08, band08),
    ...shapes(portLevel10, band10),
    ...shapes(portDarkIsles, bandDark),
    ...shapes(portBlueIsles, band06),
    ...shapes(portSpecks, '#ffffff'),
    ...stripes(portUpperStripe, portLowerStripe),
    ...rim(portUpperStripe[3], portUpperStripe[2], false),
    ...rim(portLowerStripe[3], portLowerStripe[0], false),
    ...rim(portLowerStripe[1], portLowerStripe[2], false),
    stroke([portLowerStripe[0], portLowerStripe[1]], '#f0d81e', 2.5),
    marker()
];

const tiomanLayers = [
    shape(wholePlot, bandDark, null),
    shape(tiomanLevel02, band02),
    shape(tiomanLeftIsle, band02),
    shape(tiomanTriangle02, band02),
    shape(tiomanTriangleDark, bandDark),
    shape(tiomanTriangle04, band04),
    shape(tiomanLevel04, band04),
    shape(tiomanLevel06, band06),
    ...shapes(tiomanLevel08, band08),
    ...shapes(tiomanDarkSpots, bandDark),
    ...shapes(tiomanHoles, '#ffffff'),
    ...shapes(tiomanTeeth, '#ffffff'),
    ...stripes(tiomanUpperStripe, tiomanLowerStripe),
    ...rim(tiomanUpperStripe[0], tiomanUpperStripe[1], false),
    ...rim(tiomanLowerStripe[3], tiomanLowerStripe[0], false),
    stroke([tiomanLowerStripe[0], tiomanLowerStripe[1]], '#f0d81e', 2.5),
    stroke(tiomanYellowLeft, '#f4e01c', 3),
    marker()
];

const redangLayers = [
    shape(wholePlot, bandDark, null),
    shape(redangFringe, band02),
    shape(redangIsland, band02),
    shape(redangTriangle02, band02),
    shape(redangRightEdge, band02),
    ...shapes(redangBottom04, band04),
    ...shapes(redangDarkSpots, bandDark),
    ...shapes(redangHoles, '#ffffff'),
    ...stripes(redangUpperStripe, redangLowerStripe),
    ...rim(redangUpperStripe[3], redangUpperStripe[2], true),
    ...rim(redangLowerStripe[3], redangLowerStripe[0], false),
    stroke([redangLowerStripe[0], redangLowerStripe[1]], '#f0d81e', 2.5),
    marker()
];

drawPlot('plotA', { left: 68, right: 483, top: 19, bottom: 382 }, kusuLayers, null);
drawPlot('plotB', { left: 655, right: 1070, top: 19, bottom: 382 }, portLayers, null);
drawPlot('plotC', { left: 67, right: 482, top: 441, bottom: 805 }, tiomanLayers, 'Emission (nm)');
drawPlot('plotD', { left: 654, right: 1070, top: 441, bottom: 805 }, redangLayers, 'Emission (nm)');

drawColorbar('barA', { left: 505, right: 522, top: 19, bottom: 382 });
drawColorbar('barB', { left: 1092, right: 1110, top: 19, bottom: 382 });
drawColorbar('barC', { left: 503, right: 520, top: 441, bottom: 805 });
drawColorbar('barD', { left: 1092, right: 1110, top: 441, bottom: 806 });
</script>
</body>
</html>
